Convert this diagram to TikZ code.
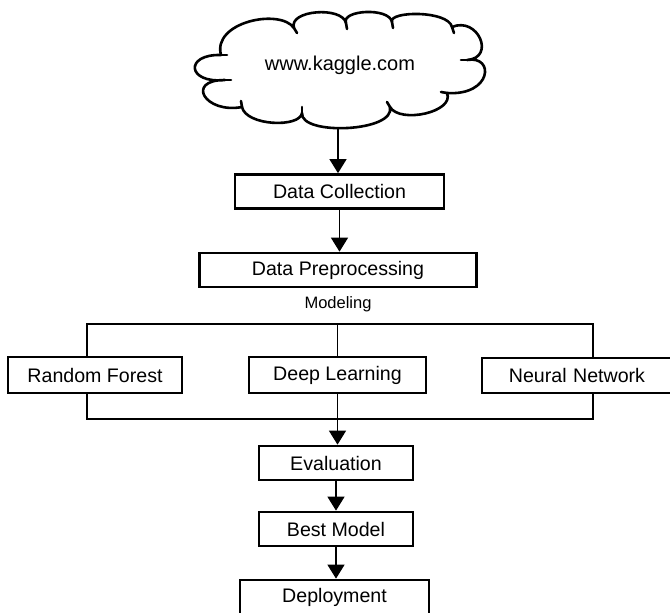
\documentclass[tikz,border=0pt]{standalone}
\usepackage{fontspec}
\setmainfont{Liberation Sans}
\usetikzlibrary{arrows.meta}
\begin{document}
\begin{tikzpicture}[x=1pt,y=-1pt,
  box/.style={draw,line width=2.7pt,minimum height=34pt,inner sep=0pt,
    font=\fontsize{19.6}{23}\selectfont},
  arr/.style={line width=1.3pt,-{Triangle[width=17pt,length=14pt]}},
  brk/.style={line width=2.5pt},
  thin/.style={line width=1.3pt},
  cloudline/.style={draw,line width=2.6pt,line join=round,fill=white},
  hook/.style={line width=2.6pt,line cap=round}]
\clip (0,0) rectangle (670,613);
\fill[white] (0,0) rectangle (670,613);
% cloud outline
\path[cloudline] (221,55)
  .. controls (212,22) and (280,8) .. (294,28)
  .. controls (288,10) and (342,6) .. (346,23)
  .. controls (341,10) and (389,7) .. (392,22)
  .. controls (388,11) and (448,10) .. (452,27)
  .. controls (478,16) and (496,58) .. (467,60)
  .. controls (495,55) and (492,96) .. (447,93)
  .. controls (455,112) and (400,124) .. (390,107)
  .. controls (396,132) and (300,136) .. (302,113)
  .. controls (300,128) and (246,126) .. (242,107)
  .. controls (205,114) and (185,80) .. (225,80)
  .. controls (187,84) and (184,54) .. (221,55) -- cycle;
% small inward tails where the puffs meet
\draw[hook] (294,28) -- (297,33);
\draw[hook] (346,23) -- (347,29);
\draw[hook] (392,22) -- (393,28);
\draw[hook] (452,27) -- (454,33);
\draw[hook] (467,60) -- (461,60);
\draw[hook] (447,93) -- (441,92);
\draw[hook] (390,107) -- (387,102);
\draw[hook] (302,113) -- (302,107);
\draw[hook] (242,107) -- (241,101);
\draw[hook] (225,80) -- (231,80);
\draw[hook] (221,55) -- (227,55);
\node[font=\fontsize{20}{23}\selectfont] (cl) at (340,65) {www.kaggle.com};
\coordinate (clb) at (338,128);
\node[box,minimum width=209pt] (dc) at (339.5,191.5) {Data Collection};
\node[box,minimum width=277pt] (dp) at (338,270) {Data Preprocessing};
\node[font=\fontsize{16.5}{19}\selectfont] (mo) at (338,304) {Modeling};
\node[box,minimum width=174pt,minimum height=36pt] (rf) at (95,375) {Random Forest};
\node[box,minimum width=177pt,minimum height=36pt] (dl) at (337.5,375) {Deep Learning};
\node[box,minimum width=190pt,minimum height=35pt,text width=190pt,align=center] (nn) at (577,375.5) {Neural Network};
\node[box,minimum width=154pt] (ev) at (336,463) {Evaluation};
\node[box,minimum width=154pt] (bm) at (336,529) {Best Model};
\node[box,minimum width=189pt] (de) at (334.5,597) {Deployment};
\coordinate (btl) at (87,324);
\coordinate (btr) at (593,324);
\coordinate (bbl) at (87,419);
\coordinate (bbr) at (593,419);
\draw[arr] (clb) -- (clb |- dc.north);
\draw[arr] (dc.south) -- (dc.south |- dp.north);
\draw[brk] (btl |- rf.north) -- (btl) -- (btr) -- (btr |- nn.north);
\draw[brk] (bbl |- rf.south) -- (bbl) -- (bbr) -- (bbr |- nn.south);
\draw[thin] (dl.north |- btl) -- (dl.north);
\draw[arr] (dl.south) -- (dl.south |- ev.north);
\draw[arr] (ev.south) -- (bm.north);
\draw[arr] (bm.south) -- (bm.south |- de.north);
\end{tikzpicture}
\end{document}
